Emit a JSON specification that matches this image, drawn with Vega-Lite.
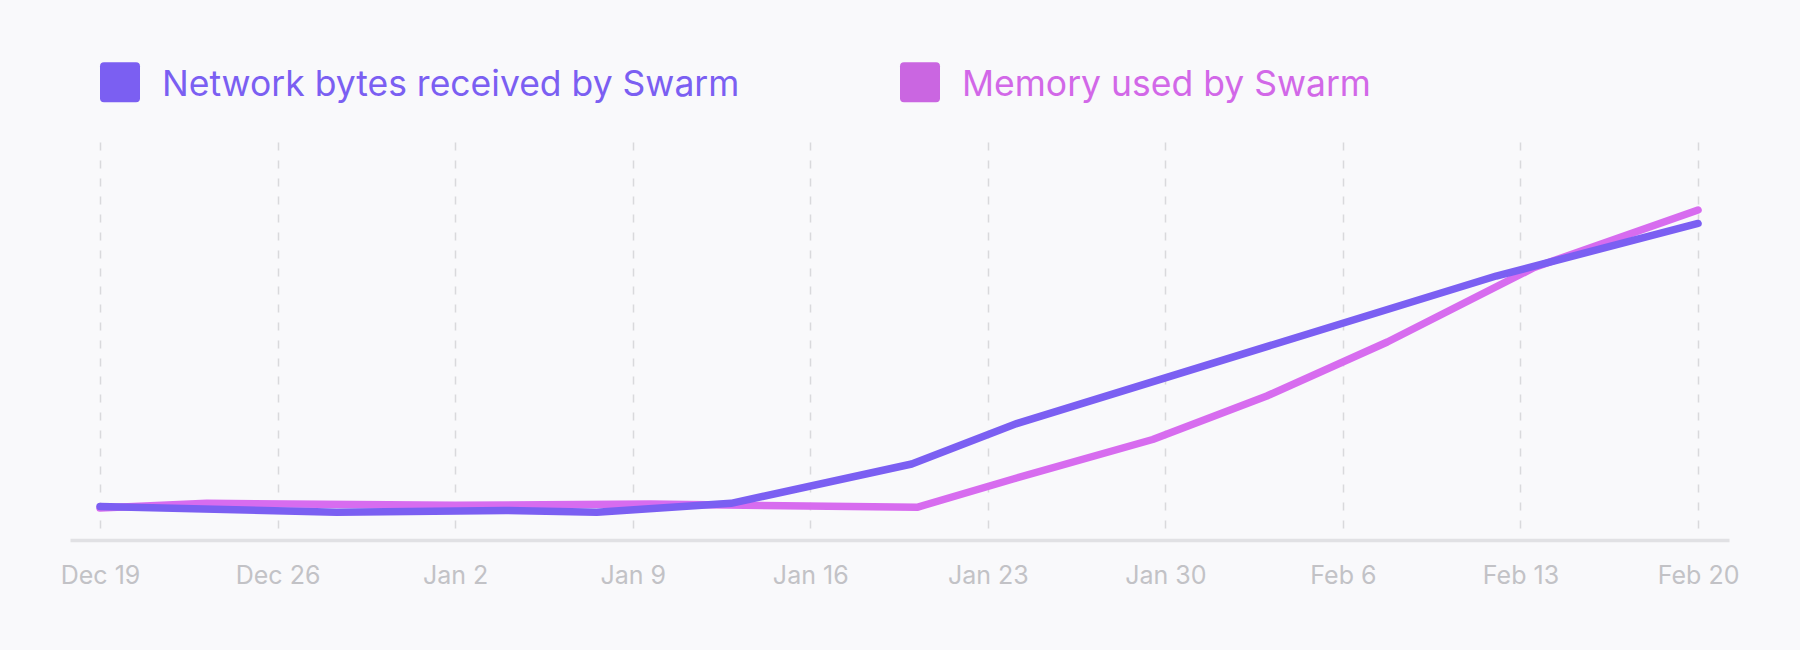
{
  "$schema": "https://vega.github.io/schema/vega-lite/v6.json",
  "autosize": "none",
  "width": 1659,
  "height": 386,
  "padding": {"left": 70, "top": 142, "right": 71, "bottom": 122},
  "background": "#f9f9fb",
  "data": {
    "values": [
      {"date": "2021-12-19T00:00:00", "series": "Memory used by Swarm", "value": 5.18},
      {"date": "2021-12-23T05:00:00", "series": "Memory used by Swarm", "value": 6.40},
      {"date": "2022-01-02T00:00:00", "series": "Memory used by Swarm", "value": 5.88},
      {"date": "2022-01-09T17:00:00", "series": "Memory used by Swarm", "value": 6.22},
      {"date": "2022-01-20T05:00:00", "series": "Memory used by Swarm", "value": 5.36},
      {"date": "2022-01-24T00:00:00", "series": "Memory used by Swarm", "value": 12.69},
      {"date": "2022-01-29T12:00:00", "series": "Memory used by Swarm", "value": 22.93},
      {"date": "2022-02-03T00:00:00", "series": "Memory used by Swarm", "value": 34.20},
      {"date": "2022-02-07T18:00:00", "series": "Memory used by Swarm", "value": 48.19},
      {"date": "2022-02-13T13:00:00", "series": "Memory used by Swarm", "value": 67.49},
      {"date": "2022-02-20T00:00:00", "series": "Memory used by Swarm", "value": 82.38},
      {"date": "2021-12-19T00:00:00", "series": "Network bytes received by Swarm", "value": 5.57},
      {"date": "2021-12-28T08:00:00", "series": "Network bytes received by Swarm", "value": 4.07},
      {"date": "2022-01-04T00:00:00", "series": "Network bytes received by Swarm", "value": 4.53},
      {"date": "2022-01-07T14:00:00", "series": "Network bytes received by Swarm", "value": 4.07},
      {"date": "2022-01-12T21:00:00", "series": "Network bytes received by Swarm", "value": 6.40},
      {"date": "2022-01-20T00:00:00", "series": "Network bytes received by Swarm", "value": 16.58},
      {"date": "2022-01-24T04:00:00", "series": "Network bytes received by Swarm", "value": 27.12},
      {"date": "2022-02-12T01:00:00", "series": "Network bytes received by Swarm", "value": 65.28},
      {"date": "2022-02-20T00:00:00", "series": "Network bytes received by Swarm", "value": 78.89}
    ]
  },
  "mark": {"type": "line", "strokeWidth": 7.5, "strokeCap": "round", "strokeJoin": "round"},
  "encoding": {
    "x": {
      "field": "date",
      "type": "temporal",
      "scale": {
        "domain": [
          {"year": 2021, "month": 12, "date": 17, "hours": 19, "minutes": 36},
          {"year": 2022, "month": 2, "date": 21, "hours": 5, "minutes": 17}
        ],
        "nice": false
      },
      "axis": {
        "title": null,
        "values": [
          {"year": 2021, "month": 12, "date": 19},
          {"year": 2021, "month": 12, "date": 26},
          {"year": 2022, "month": 1, "date": 2},
          {"year": 2022, "month": 1, "date": 9},
          {"year": 2022, "month": 1, "date": 16},
          {"year": 2022, "month": 1, "date": 23},
          {"year": 2022, "month": 1, "date": 30},
          {"year": 2022, "month": 2, "date": 6},
          {"year": 2022, "month": 2, "date": 13},
          {"year": 2022, "month": 2, "date": 20}
        ],
        "format": "%b %-d",
        "labelFlush": false,
        "labelOverlap": false,
        "labelAlign": "center",
        "labelFont": "Inter",
        "labelFontSize": 25,
        "labelColor": "#c2c2c6",
        "labelPadding": 23,
        "ticks": false,
        "tickSize": 0,
        "offset": 12,
        "domain": true,
        "domainColor": "#e1e1e4",
        "domainWidth": 3.5,
        "grid": true,
        "gridColor": "#d9d9dc",
        "gridWidth": 1.5,
        "gridDash": [8, 10]
      }
    },
    "y": {
      "field": "value",
      "type": "quantitative",
      "scale": {"domain": [0, 100], "nice": false, "zero": false},
      "axis": null
    },
    "color": {
      "field": "series",
      "type": "nominal",
      "scale": {
        "domain": ["Network bytes received by Swarm", "Memory used by Swarm"],
        "range": ["#7b5ff2", "#d76cef"]
      },
      "legend": {
        "title": null,
        "orient": "none",
        "legendX": 30,
        "legendY": -80,
        "direction": "horizontal",
        "padding": 0,
        "symbolType": "M -0.8 -1 L 0.8 -1 Q 1 -1 1 -0.8 L 1 0.8 Q 1 1 0.8 1 L -0.8 1 Q -1 1 -1 0.8 L -1 -0.8 Q -1 -1 -0.8 -1 Z",
        "symbolSize": 1600,
        "symbolStrokeWidth": 0,
        "symbolOpacity": 1,
        "labelFont": "Inter",
        "labelFontSize": 35.5,
        "labelOffset": 22,
        "labelLimit": 1000,
        "columnPadding": 160,
        "encode": {
          "symbols": {"update": {
            "fill": [{"test": "datum.value === 'Memory used by Swarm'", "value": "#ca66e1"}, {"value": "#7b5ff2"}],
            "stroke": {"value": "transparent"},
            "opacity": {"value": 1}
          }},
          "labels": {"update": {
            "fill": [{"test": "datum.value === 'Memory used by Swarm'", "value": "#d268e8"}, {"value": "#7b5ff2"}],
            "dy": {"value": 3}
          }}
        }
      }
    }
  },
  "config": {"view": {"stroke": null}}
}
